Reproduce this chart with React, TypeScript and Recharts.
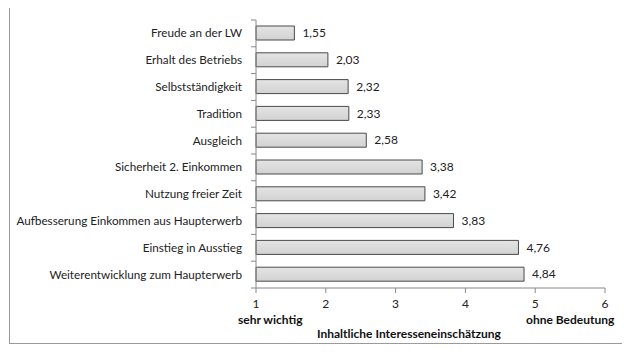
import { BarChart, Bar, XAxis, YAxis, LabelList } from 'recharts'

const categories = [
  'Freude an der LW',
  'Erhalt des Betriebs',
  'Selbstständigkeit',
  'Tradition',
  'Ausgleich',
  'Sicherheit 2. Einkommen',
  'Nutzung freier Zeit',
  'Aufbesserung Einkommen aus Haupterwerb',
  'Einstieg in Ausstieg',
  'Weiterentwicklung zum Haupterwerb',
]
const scores = [1.55, 2.03, 2.32, 2.33, 2.58, 3.38, 3.42, 3.83, 4.76, 4.84]
const xTicks = [1, 2, 3, 4, 5, 6]

const data = categories.map((name, i) => ({ name, score: scores[i] }))

const font = 'Lato, "Open Sans", sans-serif'
const CHART_H = 335
const MARGIN = { top: 12, right: 17, bottom: 35, left: 6 }
const X_AXIS_H = 20
const plotH = CHART_H - MARGIN.top - MARGIN.bottom - X_AXIS_H
const band = plotH / categories.length

function CategoryTick(props: any) {
  const { x, y, payload, index } = props
  const ax = x + 8
  return (
    <g>
      <line x1={ax - 5} x2={ax} y1={y - band / 2} y2={y - band / 2} stroke="#888" />
      {index === categories.length - 1 && (
        <line x1={ax - 5} x2={ax} y1={y + band / 2} y2={y + band / 2} stroke="#888" />
      )}
      <text x={x - 6} y={y} dy={4} textAnchor="end" fill="#222" fontSize={11.7} fontFamily={font}>
        {payload.value}
      </text>
    </g>
  )
}

export default function App() {
  return (
    <div
      style={{
        position: 'relative',
        width: 612,
        height: CHART_H,
        marginLeft: 1,
        marginTop: -1,
        border: '1px solid #9a9a9a',
        background: '#fff',
      }}
    >
      <BarChart
        width={612}
        height={CHART_H}
        data={data}
        layout="vertical"
        margin={MARGIN}
        barSize={14}
      >
        <defs>
          <linearGradient id="barFill" x1="0" y1="0" x2="0" y2="1">
            <stop offset="0%" stopColor="#e4e4e4" />
            <stop offset="100%" stopColor="#d2d2d2" />
          </linearGradient>
        </defs>
        <XAxis
          type="number"
          domain={[1, 6]}
          ticks={xTicks}
          height={X_AXIS_H}
          tick={{ fill: '#222', fontSize: 12, fontFamily: font, dy: 4 }}
          tickLine={{ stroke: '#888' }}
          axisLine={{ stroke: '#888' }}
          tickSize={5}
        />
        <YAxis
          type="category"
          dataKey="name"
          width={240}
          interval={0}
          tickLine={false}
          axisLine={{ stroke: '#888' }}
          tick={<CategoryTick />}
        />
        <Bar dataKey="score" fill="url(#barFill)" stroke="#4a4a4a" strokeWidth={1} isAnimationActive={false}>
          <LabelList
            dataKey="score"
            position="right"
            offset={8}
            formatter={(v: any) => String(v.toFixed(2)).replace('.', ',')}
            style={{ fill: '#222', fontSize: 12, fontFamily: font }}
          />
        </Bar>
      </BarChart>
      <div style={{ position: 'absolute', left: 228, top: 304, font: `bold 12px ${font}`, color: '#111' }}>
        sehr wichtig
      </div>
      <div style={{ position: 'absolute', left: 516, top: 304, font: `bold 12px ${font}`, color: '#111' }}>
        ohne Bedeutung
      </div>
      <div style={{ position: 'absolute', left: 307, top: 318, font: `bold 12px ${font}`, color: '#111' }}>
        Inhaltliche Interesseneinschätzung
      </div>
    </div>
  )
}
